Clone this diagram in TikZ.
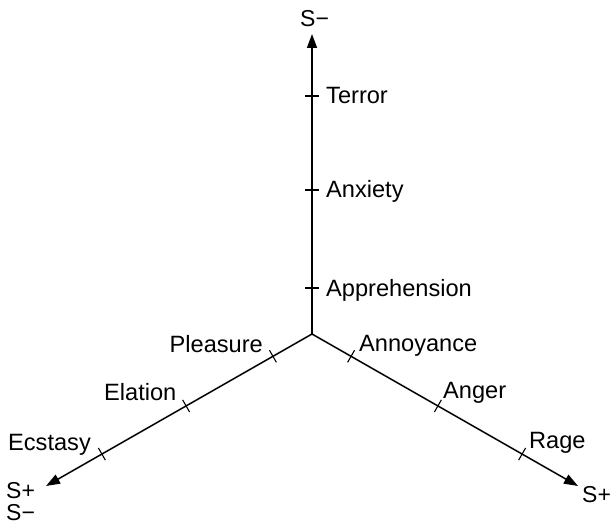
\documentclass[tikz,border=0pt]{standalone}
\usepackage{fontspec}
\setmainfont{Liberation Sans}
\usetikzlibrary{arrows.meta,calc}
\begin{document}
\begin{tikzpicture}[x=1bp,y=-1bp,
  axisline/.style={line width=1.5bp,-{Triangle[length=14bp,width=10bp]}},
  tickmark/.style={line width=1.1bp},
  lbl/.style={inner sep=0pt,font=\fontsize{23.6bp}{26bp}\selectfont},
  slbl/.style={inner sep=0pt,font=\fontsize{23bp}{22.5bp}\selectfont}]
\useasboundingbox (0,0) rectangle (613,525);
\coordinate (O) at (312,334);
\coordinate (T) at (312,34);
\coordinate (L) at (46,486);
\coordinate (R) at (578,486);
\draw[axisline] (O) -- (T);
\draw[axisline] (O) -- (L);
\draw[axisline] (O) -- (R);
% ticks
\foreach \d/\n in {46/t1,144/t2,238/t3}{
  \coordinate (\n) at ($(O)!\d bp!(T)$);
  \draw[tickmark] ($(\n)!7bp!90:(O)$) -- ($(\n)!7bp!-90:(O)$);
}
\foreach \d/\n in {45/l1,145/l2,242/l3}{
  \coordinate (\n) at ($(O)!\d bp!(L)$);
  \draw[tickmark] ($(\n)!7bp!90:(O)$) -- ($(\n)!7bp!-90:(O)$);
}
\foreach \d/\n in {45/r1,145/r2,242/r3}{
  \coordinate (\n) at ($(O)!\d bp!(R)$);
  \draw[tickmark] ($(\n)!7bp!90:(O)$) -- ($(\n)!7bp!-90:(O)$);
}
% labels
\node[lbl,anchor=base west] (terror) at (326,104) {Terror};
\node[lbl,anchor=base west] (anxiety) at (326,198) {Anxiety};
\node[lbl,anchor=base west] (appr) at (326,296) {Apprehension};
\node[lbl,anchor=base west] (annoy) at (359,351) {Annoyance};
\node[lbl,anchor=base west] (anger) at (443,398) {Anger};
\node[lbl,anchor=base west] (rage) at (529,448) {Rage};
\node[lbl,anchor=base east] (pleas) at (263,352) {Pleasure};
\node[lbl,anchor=base west] (elat) at (104,400) {Elation};
\node[lbl,anchor=base west] (ecst) at (8,450) {Ecstasy};
\node[slbl,anchor=base west] (stop) at (300,27) {S−};
\node[slbl,anchor=south west,align=left] (sl) at (6,521) {S+\\S−};
\node[slbl,anchor=base west] (sr) at (582,502) {S+};
\end{tikzpicture}
\end{document}
